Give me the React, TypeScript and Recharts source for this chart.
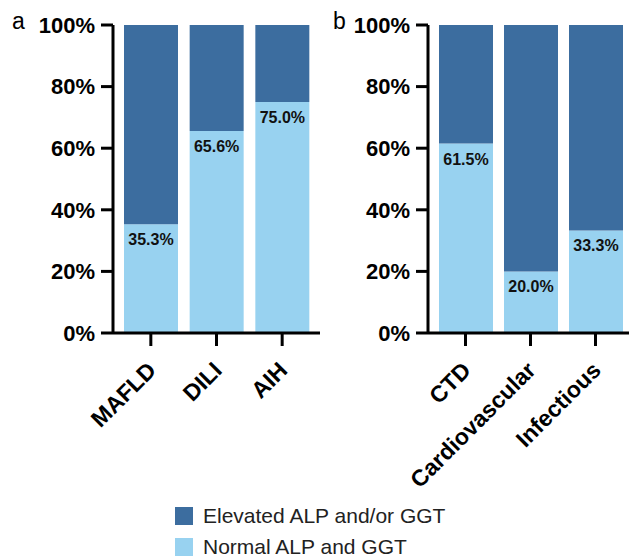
import { BarChart, Bar, XAxis, YAxis, LabelList } from "recharts";

const panelA = ["MAFLD", "DILI", "AIH"];
const panelB = ["CTD", "Cardiovascular", "Infectious"];
const normalA = [35.3, 65.6, 75.0];
const elevatedA = [64.7, 34.4, 25.0];
const normalB = [61.5, 20.0, 33.3];
const elevatedB = [38.5, 80.0, 66.7];
const yTicks = [0, 20, 40, 60, 80, 100];

const DARK = "#3C6D9F";
const LIGHT = "#98D2F0";
const FONT = "'Liberation Sans', Arial, sans-serif";

const series = [
  { key: "elevated", name: "Elevated ALP and/or GGT", color: DARK },
  { key: "normal", name: "Normal ALP and GGT", color: LIGHT },
];

const XTick = ({ x, y, payload }: any) => {
  const ax = x - 5;
  const ay = y + 12;
  return (
    <text
      x={ax}
      y={ay}
      dy="0.72em"
      transform={`rotate(-45, ${ax}, ${ay})`}
      textAnchor="end"
      fontFamily={FONT}
      fontWeight="bold"
      fontSize={23}
      fill="#000"
    >
      {payload.value}
    </text>
  );
};

const PctLabel = ({ x, y, width, value }: any) => (
  <text
    x={x + width / 2}
    y={y + 21}
    textAnchor="middle"
    fontFamily={FONT}
    fontWeight="bold"
    fontSize={16}
    fill="#111"
  >
    {Number(value).toFixed(1)}%
  </text>
);

const Panel = ({
  cats,
  normal,
  elevated,
  width,
  padRight,
}: {
  cats: string[];
  normal: number[];
  elevated: number[];
  width: number;
  padRight: number;
}) => {
  const data = cats.map((c, i) => ({ name: c, normal: normal[i], elevated: elevated[i] }));
  return (
    <BarChart width={width} height={500} data={data} margin={{ top: 25, right: 0, bottom: 0, left: 0 }}>
      <XAxis
        dataKey="name"
        height={167}
        interval={0}
        padding={{ left: 5, right: padRight }}
        axisLine={{ stroke: "#000", strokeWidth: 3 }}
        tickLine={{ stroke: "#000", strokeWidth: 3 }}
        tickSize={13}
        tick={<XTick />}
      />
      <YAxis
        width={113}
        domain={[0, 100]}
        ticks={yTicks}
        interval={0}
        tickFormatter={(v) => `${v}%`}
        axisLine={{ stroke: "#000", strokeWidth: 3 }}
        tickLine={{ stroke: "#000", strokeWidth: 3 }}
        tickSize={12}
        tickMargin={6}
        tick={{ fill: "#000", fontFamily: FONT, fontWeight: "bold", fontSize: 22 }}
      />
      <Bar dataKey="normal" stackId="s" fill={LIGHT} barSize={54} isAnimationActive={false}>
        <LabelList dataKey="normal" content={<PctLabel />} />
      </Bar>
      <Bar dataKey="elevated" stackId="s" fill={DARK} barSize={54} isAnimationActive={false} />
    </BarChart>
  );
};

export default function App() {
  return (
    <div style={{ position: "absolute", left: 0, top: 0, width: 629, height: 558, background: "#fff", fontFamily: FONT, overflow: "hidden" }}>
      <div style={{ position: "absolute", left: 0, top: 0 }}>
        <Panel cats={panelA} normal={normalA} elevated={elevatedA} width={320} padRight={5} />
      </div>
      <div style={{ position: "absolute", left: 315, top: 0 }}>
        <Panel cats={panelB} normal={normalB} elevated={elevatedB} width={314} padRight={1} />
      </div>
      <div style={{ position: "absolute", left: 12, top: 6, fontSize: 23, lineHeight: "30px" }}>a</div>
      <div style={{ position: "absolute", left: 333, top: 6, fontSize: 23, lineHeight: "30px" }}>b</div>
      <div style={{ position: "absolute", left: 175, top: 500 }}>
        {series.map((s) => (
          <div key={s.key} style={{ display: "flex", alignItems: "center", height: 31 }}>
            <span style={{ width: 18, height: 18, background: s.color, marginRight: 10, flexShrink: 0 }} />
            <span style={{ fontSize: 21, lineHeight: "22px", color: "#222" }}>{s.name}</span>
          </div>
        ))}
      </div>
    </div>
  );
}
